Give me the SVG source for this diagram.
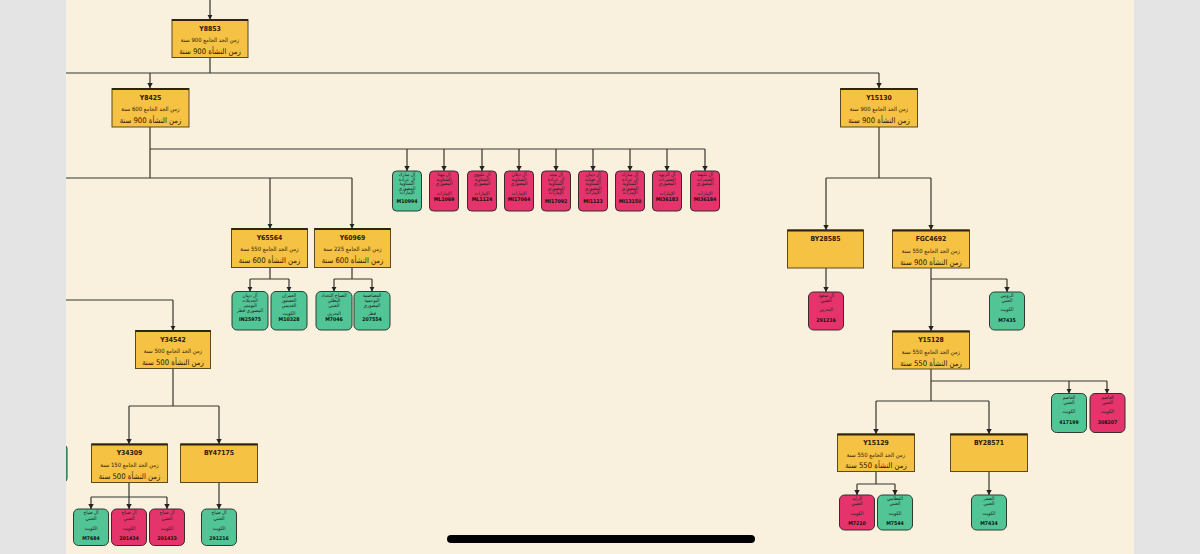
<svg xmlns="http://www.w3.org/2000/svg" width="1200" height="554" viewBox="0 0 1200 554">
<style>
.bg{fill:#f9f1de}
.margin{fill:#e4e4e4}
.gold{fill:#f5c243;stroke:#5a4a20;stroke-width:1}
.goldtop{stroke:#2e2510;stroke-width:2.2}
.green{fill:#52c596;stroke:#2f3b33;stroke-width:1}
.red{fill:#e4346b;stroke:#3b2a2e;stroke-width:1}
.t{font-family:"DejaVu Sans Condensed","DejaVu Sans",sans-serif;text-anchor:middle;fill:#2e2000}
.title{font-size:6.8px;font-weight:bold}
.l2{font-size:5.9px;direction:rtl}
.l3{font-size:7.7px;direction:rtl}
.lf{font-family:"DejaVu Sans Condensed","DejaVu Sans",sans-serif;text-anchor:middle;fill:#222;font-size:4.9px;direction:rtl}
.id{font-family:"DejaVu Sans Condensed","DejaVu Sans",sans-serif;text-anchor:middle;fill:#111;font-size:5.2px;font-weight:bold}
.c{fill:none;stroke:#35352c;stroke-width:1.2}
.ca{fill:none;stroke:#35352c;stroke-width:1.2;marker-end:url(#ar)}
</style>
<defs>
<marker id="ar" markerUnits="userSpaceOnUse" markerWidth="6" markerHeight="6" refX="5" refY="3" orient="auto">
<path d="M0,0.3 L5,3 L0,5.7 z" fill="#222"/>
</marker>
</defs>
<rect class="bg" x="0" y="0" width="1200" height="554"/>

<g id="connectors">
<path class="ca" d="M210,0 V19.5"/>
<path class="c" d="M210,57.5 V73 M66,73 H879"/>
<path class="ca" d="M150,73 V88"/>
<path class="ca" d="M879,73 V88"/>
<path class="c" d="M150,127 V178 M150,149 H705 M66,178 H352"/>
<path class="ca" d="M407,149 V171"/>
<path class="ca" d="M444,149 V171"/>
<path class="ca" d="M482,149 V171"/>
<path class="ca" d="M519,149 V171"/>
<path class="ca" d="M556,149 V171"/>
<path class="ca" d="M593,149 V171"/>
<path class="ca" d="M630,149 V171"/>
<path class="ca" d="M667,149 V171"/>
<path class="ca" d="M705,149 V171"/>
<path class="ca" d="M270,178 V228.5"/>
<path class="ca" d="M352,178 V228.5"/>
<path class="c" d="M270,267.5 V279 M250,279 H289 M352,267.5 V279 M334,279 H372"/>
<path class="ca" d="M250,279 V291.5"/>
<path class="ca" d="M289,279 V291.5"/>
<path class="ca" d="M334,279 V291.5"/>
<path class="ca" d="M372,279 V291.5"/>
<path class="c" d="M66,300 H173"/>
<path class="ca" d="M173,300 V330.5"/>
<path class="c" d="M173,368.5 V406 M129,406 H219"/>
<path class="ca" d="M129,406 V444"/>
<path class="ca" d="M219,406 V444"/>
<path class="c" d="M129,482.5 V497 M91,497 H167"/>
<path class="ca" d="M91,497 V509"/>
<path class="ca" d="M129,497 V509"/>
<path class="ca" d="M167,497 V509"/>
<path class="ca" d="M219,482.5 V509"/>
<path class="c" d="M879,127 V178 M826,178 H931"/>
<path class="ca" d="M826,178 V230"/>
<path class="ca" d="M931,178 V230"/>
<path class="ca" d="M826,268 V292"/>
<path class="ca" d="M931,268 V331"/>
<path class="c" d="M931,279 H1007"/>
<path class="ca" d="M1007,279 V292"/>
<path class="c" d="M931,369 V401 M931,381 H1107 M876,401 H989"/>
<path class="ca" d="M1069,381 V393.5"/>
<path class="ca" d="M1107,381 V393.5"/>
<path class="ca" d="M876,401 V434"/>
<path class="ca" d="M989,401 V434"/>
<path class="c" d="M876,472 V484 M857,484 H895"/>
<path class="ca" d="M857,484 V495"/>
<path class="ca" d="M895,484 V495"/>
<path class="ca" d="M989,472 V495"/>
</g>

<g id="Y8853">
<rect class="gold" x="172" y="19.5" width="76" height="38"/><path class="goldtop" d="M172,20 H248"/>
<text class="t title" x="210" y="30.5">Y8853</text>
<text class="t l2" x="210" y="42">زمن الجد الجامع 900 سنة</text>
<text class="t l3" x="210" y="54">زمن النشأة 900 سنة</text>
</g>
<g id="Y8425">
<rect class="gold" x="112" y="88.5" width="77" height="38.5"/><path class="goldtop" d="M112,89 H189"/>
<text class="t title" x="150.5" y="99.5">Y8425</text>
<text class="t l2" x="150.5" y="111">زمن الجد الجامع 600 سنة</text>
<text class="t l3" x="150.5" y="123">زمن النشأة 900 سنة</text>
</g>
<g id="Y15130">
<rect class="gold" x="840.5" y="88.5" width="77" height="38.5"/><path class="goldtop" d="M840.5,89 H917.5"/>
<text class="t title" x="879" y="99.5">Y15130</text>
<text class="t l2" x="879" y="111">زمن الجد الجامع 900 سنة</text>
<text class="t l3" x="879" y="123">زمن النشأة 900 سنة</text>
</g>

<g id="M10994">
<rect class="green" x="392.5" y="171" width="29" height="40" rx="4"/>
<text class="lf" x="407" y="176">آل مبارك</text>
<text class="lf" x="407" y="180.5">آل عرادة</text>
<text class="lf" x="407" y="185">الشناوية</text>
<text class="lf" x="407" y="189.5">المصوري</text>
<text class="lf" x="407" y="194">الإمارات</text>
<text class="id" x="407" y="203">M10994</text>
</g>
<g id="ML1069">
<rect class="red" x="429.5" y="171" width="29" height="40" rx="4"/>
<text class="lf" x="444" y="176">آل مهنا</text>
<text class="lf" x="444" y="180.5">الشناوية</text>
<text class="lf" x="444" y="185">المصوري</text>
<text class="lf" x="444" y="195">الإمارات</text>
<text class="id" x="444" y="201">ML1069</text>
</g>
<g id="ML1124">
<rect class="red" x="467.5" y="171" width="29" height="40" rx="4"/>
<text class="lf" x="482" y="176">آل عليوي</text>
<text class="lf" x="482" y="180.5">الشناوية</text>
<text class="lf" x="482" y="185">المصوري</text>
<text class="lf" x="482" y="195">الإمارات</text>
<text class="id" x="482" y="201">ML1124</text>
</g>
<g id="MI17064">
<rect class="red" x="504.5" y="171" width="29" height="40" rx="4"/>
<text class="lf" x="519" y="176">آل دبلان</text>
<text class="lf" x="519" y="180.5">الشناوية</text>
<text class="lf" x="519" y="185">المصوري</text>
<text class="lf" x="519" y="195">الإمارات</text>
<text class="id" x="519" y="201">MI17064</text>
</g>
<g id="MI17092">
<rect class="red" x="541.5" y="171" width="29" height="40" rx="4"/>
<text class="lf" x="556" y="176">آل مجد</text>
<text class="lf" x="556" y="180.5">آل عرادة</text>
<text class="lf" x="556" y="185">الشناوية</text>
<text class="lf" x="556" y="189.5">المصوري</text>
<text class="lf" x="556" y="194">الإمارات</text>
<text class="id" x="556" y="203">MI17092</text>
</g>
<g id="MI1123">
<rect class="red" x="578.5" y="171" width="29" height="40" rx="4"/>
<text class="lf" x="593" y="176">آل ذيبان</text>
<text class="lf" x="593" y="180.5">آل صبابه</text>
<text class="lf" x="593" y="185">الشناوية</text>
<text class="lf" x="593" y="189.5">المصوري</text>
<text class="lf" x="593" y="194">الإمارات</text>
<text class="id" x="593" y="203">MI1123</text>
</g>
<g id="MI13150">
<rect class="red" x="615.5" y="171" width="29" height="40" rx="4"/>
<text class="lf" x="630" y="176">آل مبارك</text>
<text class="lf" x="630" y="180.5">آل عرادة</text>
<text class="lf" x="630" y="185">الشناوية</text>
<text class="lf" x="630" y="189.5">المصوري</text>
<text class="lf" x="630" y="194">الإمارات</text>
<text class="id" x="630" y="203">MI13150</text>
</g>
<g id="MI36183">
<rect class="red" x="652.5" y="171" width="29" height="40" rx="4"/>
<text class="lf" x="667" y="176">آل الربوه</text>
<text class="lf" x="667" y="180.5">الضمرات</text>
<text class="lf" x="667" y="185">المصوري</text>
<text class="lf" x="667" y="195">الإمارات</text>
<text class="id" x="667" y="201">MI36183</text>
</g>
<g id="MI36184">
<rect class="red" x="690.5" y="171" width="29" height="40" rx="4"/>
<text class="lf" x="705" y="176">آل غنيمة</text>
<text class="lf" x="705" y="180.5">الضمرات</text>
<text class="lf" x="705" y="185">المصوري</text>
<text class="lf" x="705" y="195">الإمارات</text>
<text class="id" x="705" y="201">MI36184</text>
</g>

<g id="Y65564">
<rect class="gold" x="231.5" y="228.5" width="76" height="39"/><path class="goldtop" d="M231.5,229 H307.5"/>
<text class="t title" x="269.5" y="239.5">Y65564</text>
<text class="t l2" x="269.5" y="251">زمن الجد الجامع 550 سنة</text>
<text class="t l3" x="269.5" y="263">زمن النشأة 600 سنة</text>
</g>
<g id="Y60969">
<rect class="gold" x="314.5" y="228.5" width="76" height="39"/><path class="goldtop" d="M314.5,229 H390.5"/>
<text class="t title" x="352.5" y="239.5">Y60969</text>
<text class="t l2" x="352.5" y="251">زمن الجد الجامع 225 سنة</text>
<text class="t l3" x="352.5" y="263">زمن النشأة 600 سنة</text>
</g>

<g id="IN25975">
<rect class="green" x="232" y="291.5" width="36" height="38.5" rx="5"/>
<text class="lf" x="250" y="296.5">آل ذيبان</text>
<text class="lf" x="250" y="301.5">الجديلات</text>
<text class="lf" x="250" y="306.5">البومنير</text>
<text class="lf" x="250" y="311.5">المصوري قطر</text>
<text class="id" x="250" y="321">IN25975</text>
</g>
<g id="M10328">
<rect class="green" x="271" y="291.5" width="36" height="38.5" rx="5"/>
<text class="lf" x="289" y="296.5">العمران</text>
<text class="lf" x="289" y="301.5">العصفور</text>
<text class="lf" x="289" y="306.5">القديمي</text>
<text class="lf" x="289" y="314.5">الكويت</text>
<text class="id" x="289" y="321">M10328</text>
</g>
<g id="M7046">
<rect class="green" x="316" y="291.5" width="36" height="38.5" rx="5"/>
<text class="lf" x="334" y="296.5">الصباح التحداد</text>
<text class="lf" x="334" y="301.5">البطلي</text>
<text class="lf" x="334" y="306.5">العنبي</text>
<text class="lf" x="334" y="314.5">البحرين</text>
<text class="id" x="334" y="321">M7046</text>
</g>
<g id="207554">
<rect class="green" x="354" y="291.5" width="36" height="38.5" rx="5"/>
<text class="lf" x="372" y="296.5">الفضاضمة</text>
<text class="lf" x="372" y="301.5">البوحمية</text>
<text class="lf" x="372" y="306.5">المصوري</text>
<text class="lf" x="372" y="314.5">قطر</text>
<text class="id" x="372" y="321">207554</text>
</g>

<g id="Y34542">
<rect class="gold" x="135.5" y="330.5" width="75" height="38"/><path class="goldtop" d="M135.5,331 H210.5"/>
<text class="t title" x="173" y="341.5">Y34542</text>
<text class="t l2" x="173" y="353">زمن الجد الجامع 500 سنة</text>
<text class="t l3" x="173" y="365">زمن النشأة 500 سنة</text>
</g>
<g id="Y34309">
<rect class="gold" x="91.5" y="444" width="76" height="38.5"/><path class="goldtop" d="M91.5,444.5 H167.5"/>
<text class="t title" x="129.5" y="455">Y34309</text>
<text class="t l2" x="129.5" y="466.5">زمن الجد الجامع 150 سنة</text>
<text class="t l3" x="129.5" y="478.5">زمن النشأة 500 سنة</text>
</g>
<g id="BY47175">
<rect class="gold" x="180.5" y="444" width="77" height="38.5"/><path class="goldtop" d="M180.5,444.5 H257.5"/>
<text class="t title" x="219" y="455">BY47175</text>
</g>
<g id="partial-left">
<rect class="green" x="30" y="444" width="37" height="39" rx="5"/>
</g>
<g id="M7684">
<rect class="green" x="73.5" y="509" width="35" height="36.5" rx="5"/>
<text class="lf" x="91" y="514">آل صباح</text>
<text class="lf" x="91" y="519.5">العنبي</text>
<text class="lf" x="91" y="529.5">الكويت</text>
<text class="id" x="91" y="540">M7684</text>
</g>
<g id="201434">
<rect class="red" x="111.5" y="509" width="35" height="36.5" rx="5"/>
<text class="lf" x="129" y="514">آل صباح</text>
<text class="lf" x="129" y="519.5">العنبي</text>
<text class="lf" x="129" y="529.5">الكويت</text>
<text class="id" x="129" y="540">201434</text>
</g>
<g id="201433">
<rect class="red" x="149.5" y="509" width="35" height="36.5" rx="5"/>
<text class="lf" x="167" y="514">آل صباح</text>
<text class="lf" x="167" y="519.5">العنبي</text>
<text class="lf" x="167" y="529.5">الكويت</text>
<text class="id" x="167" y="540">201433</text>
</g>
<g id="291216-left">
<rect class="green" x="201.5" y="509" width="35" height="36.5" rx="5"/>
<text class="lf" x="219" y="514">آل صباح</text>
<text class="lf" x="219" y="519.5">العنبي</text>
<text class="lf" x="219" y="529.5">الكويت</text>
<text class="id" x="219" y="540">291216</text>
</g>

<g id="BY28585">
<rect class="gold" x="787.5" y="230" width="76" height="38"/><path class="goldtop" d="M787.5,230.5 H863.5"/>
<text class="t title" x="825.5" y="241">BY28585</text>
</g>
<g id="FGC4692">
<rect class="gold" x="892.5" y="230" width="77" height="38"/><path class="goldtop" d="M892.5,230.5 H969.5"/>
<text class="t title" x="931" y="241">FGC4692</text>
<text class="t l2" x="931" y="252.5">زمن الجد الجامع 550 سنة</text>
<text class="t l3" x="931" y="264.5">زمن النشأة 900 سنة</text>
</g>
<g id="291216-right">
<rect class="red" x="808.5" y="292" width="35" height="38" rx="5"/>
<text class="lf" x="826" y="297">آل سعود</text>
<text class="lf" x="826" y="302">العنبي</text>
<text class="lf" x="826" y="311">البحرين</text>
<text class="id" x="826" y="321.5">291216</text>
</g>
<g id="M7435">
<rect class="green" x="989.5" y="292" width="35" height="38" rx="5"/>
<text class="lf" x="1007" y="297">الرومي</text>
<text class="lf" x="1007" y="302">العنبي</text>
<text class="lf" x="1007" y="311">الكويت</text>
<text class="id" x="1007" y="321.5">M7435</text>
</g>
<g id="Y15128">
<rect class="gold" x="892.5" y="331" width="77" height="38"/><path class="goldtop" d="M892.5,331.5 H969.5"/>
<text class="t title" x="931" y="342">Y15128</text>
<text class="t l2" x="931" y="353.5">زمن الجد الجامع 550 سنة</text>
<text class="t l3" x="931" y="365.5">زمن النشأة 550 سنة</text>
</g>
<g id="417199">
<rect class="green" x="1051.5" y="393.5" width="35" height="39" rx="5"/>
<text class="lf" x="1069" y="398.5">العاصم</text>
<text class="lf" x="1069" y="403.5">العنبي</text>
<text class="lf" x="1069" y="413">الكويت</text>
<text class="id" x="1069" y="423.5">417199</text>
</g>
<g id="308207">
<rect class="red" x="1090" y="393.5" width="35" height="39" rx="5"/>
<text class="lf" x="1107.5" y="398.5">العاصم</text>
<text class="lf" x="1107.5" y="403.5">العنبي</text>
<text class="lf" x="1107.5" y="413">الكويت</text>
<text class="id" x="1107.5" y="423.5">308207</text>
</g>
<g id="Y15129">
<rect class="gold" x="837.5" y="434" width="77" height="37.5"/><path class="goldtop" d="M837.5,434.5 H914.5"/>
<text class="t title" x="876" y="445">Y15129</text>
<text class="t l2" x="876" y="456.5">زمن الجد الجامع 550 سنة</text>
<text class="t l3" x="876" y="468">زمن النشأة 550 سنة</text>
</g>
<g id="BY28571">
<rect class="gold" x="950.5" y="434" width="77" height="37.5"/><path class="goldtop" d="M950.5,434.5 H1027.5"/>
<text class="t title" x="989" y="445">BY28571</text>
</g>
<g id="M7210">
<rect class="red" x="839.5" y="495" width="35" height="35" rx="5"/>
<text class="lf" x="857" y="500">الرايد</text>
<text class="lf" x="857" y="505">العنبي</text>
<text class="lf" x="857" y="515">الكويت</text>
<text class="id" x="857" y="525">M7210</text>
</g>
<g id="M7544">
<rect class="green" x="877.5" y="495" width="35" height="35" rx="5"/>
<text class="lf" x="895" y="500">القطامي</text>
<text class="lf" x="895" y="505">العنبي</text>
<text class="lf" x="895" y="515">الكويت</text>
<text class="id" x="895" y="525">M7544</text>
</g>
<g id="M7434">
<rect class="green" x="971.5" y="495" width="35" height="35" rx="5"/>
<text class="lf" x="989" y="500">الصقر</text>
<text class="lf" x="989" y="505">العنبي</text>
<text class="lf" x="989" y="515">الكويت</text>
<text class="id" x="989" y="525">M7434</text>
</g>

<rect class="margin" x="0" y="0" width="66" height="554"/>
<rect class="margin" x="1134" y="0" width="66" height="554"/>
<rect x="447" y="535" width="308" height="8" rx="4" fill="#000"/>
</svg>
